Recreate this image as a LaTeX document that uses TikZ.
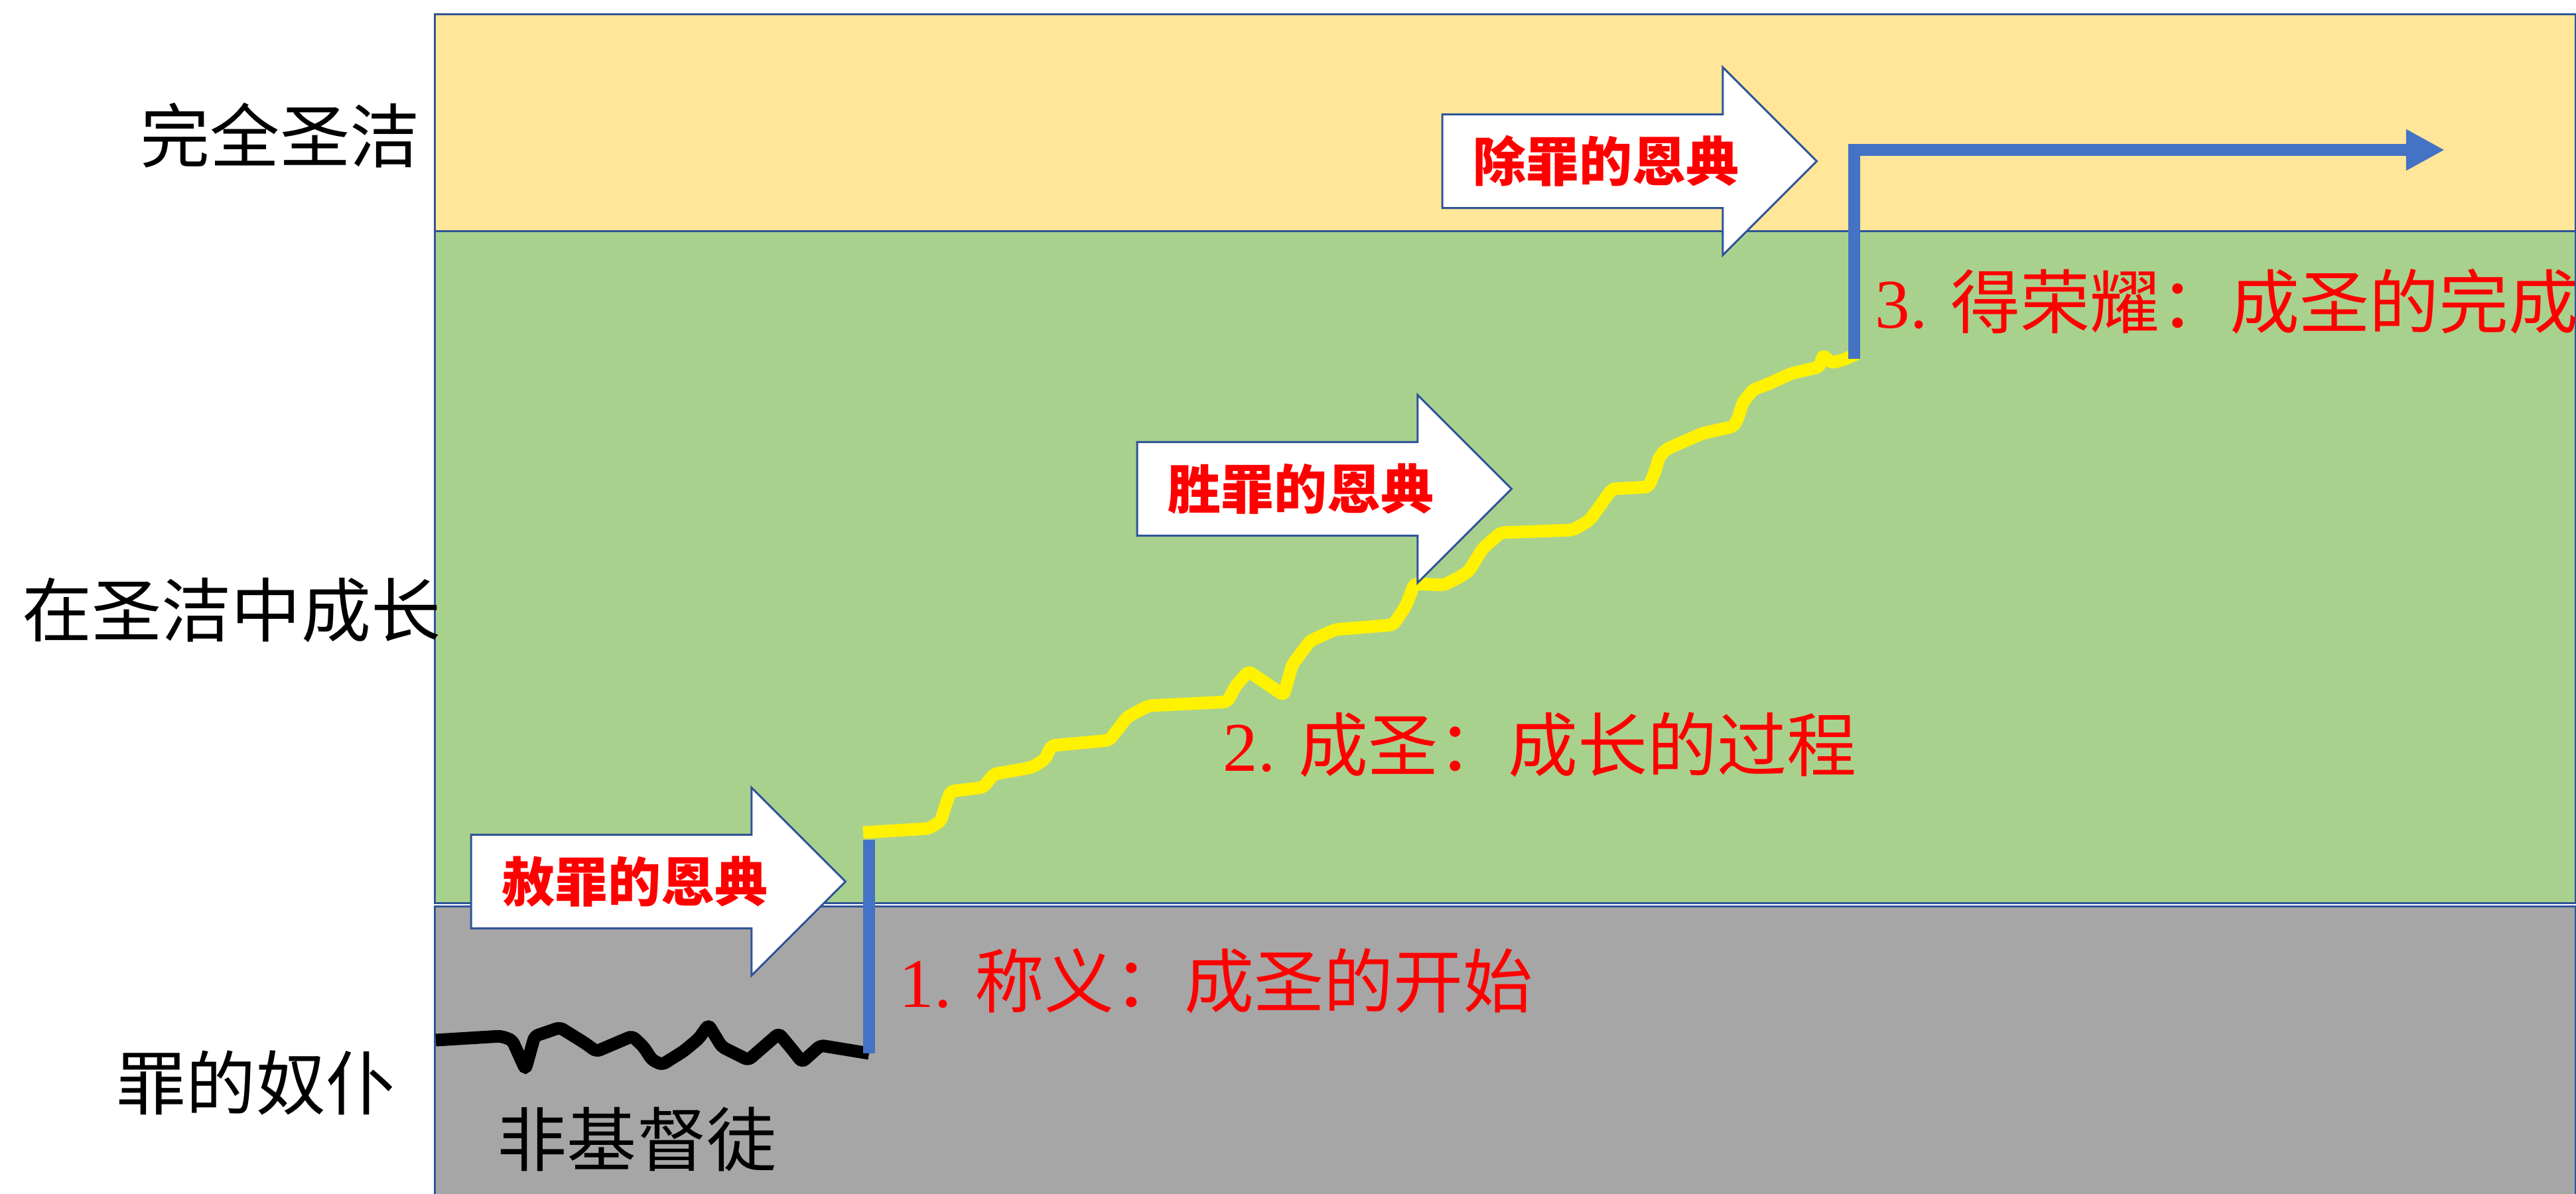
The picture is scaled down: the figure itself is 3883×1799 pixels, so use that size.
\documentclass[tikz,border=0pt]{standalone}
\usepackage{fontspec}
\setmainfont{Liberation Serif}
\newfontfamily\cjk{Noto Sans CJK SC}
\usetikzlibrary{shapes.arrows,arrows.meta}
\definecolor{goldband}{HTML}{FFE699}
\definecolor{greenband}{HTML}{A9D18E}
\definecolor{greyband}{HTML}{A6A6A6}
\definecolor{frame}{HTML}{2F5597}
\definecolor{bluepath}{HTML}{4472C4}

\begin{document}
\begin{tikzpicture}[x=0.01cm, y=-0.01cm,
    band/.style={draw=frame, line width=0.03cm},
    level/.style={font=\cjk\fontsize{29.9}{36}\selectfont, inner sep=0},
    stage/.style={font=\fontsize{29.9}{36}\selectfont, text=red, inner sep=0, anchor=base west},
    grace/.style={single arrow, draw=frame, fill=white, line width=0.03cm,
      single arrow head extend=0.71cm, inner xsep=0.13cm, inner ysep=0,
      minimum height=5.64cm,
      text height=0.99cm, text depth=0.39cm, text=red,
      font=\cjk\bfseries\fontsize{22.76}{27}\selectfont},
    jump/.style={draw=bluepath, line width=0.18cm},
    walk/.style={line width=0.19cm, rounded corners=0.06cm}]
  \useasboundingbox (0,0) rectangle (3883,1799);

  % three levels
  \draw[band, fill=goldband] (655,21) rectangle (3882,348);
  \draw[band, fill=greenband] (655,348) rectangle (3882,1361);
  \draw[band, fill=greyband] (655,1366) rectangle (3882,1830);

  \node[level] (holy) at (422,204) {完全圣洁};
  \node[level] (grow) at (349,920) {在圣洁中成长};
  \node[level] (slave) at (386,1632) {罪的奴仆};
  \node[level] (nonbeliever) at (960,1718) {非基督徒};

  % path of the life
  \coordinate (lost) at (657,1568);
  \coordinate (j0) at (1310,1588);
  \coordinate (j1) at (1310,1266);
  \coordinate (g0) at (2795,541);
  \coordinate (g1) at (2795,226);
  \coordinate (glory) at (3685,226);

  \draw[walk, black] (lost) -- (755,1562) -- (772,1568) -- (792,1612) -- (806,1562)
    -- (844,1549) -- (881,1572) -- (899,1585) -- (953,1562) -- (970,1578) -- (983,1598)
    -- (998,1605) -- (1030,1585) -- (1053,1566) -- (1068,1545) -- (1088,1578)
    -- (1128,1598) -- (1174,1558) -- (1194,1582) -- (1209,1601) -- (1237,1576) -- (j0);
  \draw[walk, yellow] (1301,1255) -- (1400,1249) -- (1418,1238) -- (1426,1212) -- (1433,1193)
    -- (1482,1187) -- (1498,1167) -- (1555,1157) -- (1575,1145) -- (1585,1124)
    -- (1672,1116) -- (1690,1093) -- (1699,1081) -- (1731,1064) -- (1850,1058)
    -- (1862,1035) -- (1882,1012) -- (1935,1048) -- (1948,1002) -- (1975,966)
    -- (2013,949) -- (2100,942) -- (2115,920) -- (2121,909) -- (2132,880)
    -- (2176,882) -- (2200,870) -- (2214,861) -- (2235,827) -- (2262,803)
    -- (2371,799) -- (2395,785) -- (2403,775) -- (2420,751) -- (2430,737)
    -- (2485,734) -- (2495,710) -- (2501,689) -- (2512,677) -- (2567,653)
    -- (2613,643) -- (2620,630) -- (2627,607) -- (2643,587) -- (2663,580)
    -- (2700,563) -- (2743,553) -- (2748,535) -- (2760,547) -- (2777,543) -- (2800,533);
  \draw[jump] (j0) -- (j1);
  \draw[jump, -{Triangle[length=0.58cm, width=0.58cm]}] (g0) -- (g1) -- (glory);

  \node[stage] (justify) at (1355,1518) {1. {\cjk 称义：成圣的开始}};
  \node[stage] (sanctify) at (1843,1162) {2. {\cjk 成圣：成长的过程}};
  \node[stage] (glorify) at (2826,494) {3. {\cjk 得荣耀：成圣的完成}};

  % graces
  \node[grace] (pardon) at (957,1329) {赦罪的恩典};
  \node[grace] (victory) at (1961,737) {胜罪的恩典};
  \node[grace] (removal) at (2421,243) {除罪的恩典};
\end{tikzpicture}
\end{document}
